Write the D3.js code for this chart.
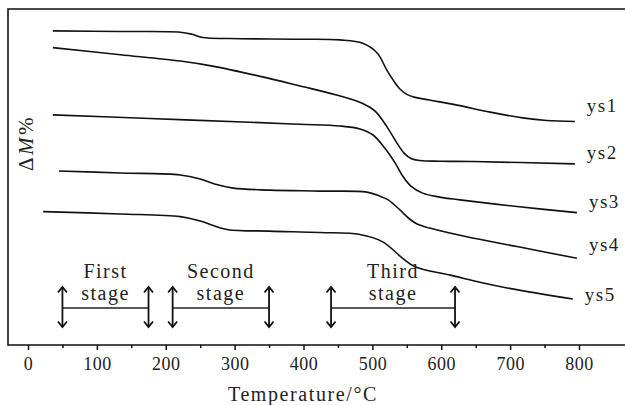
<!DOCTYPE html>
<html>
<head>
<meta charset="utf-8">
<script src="https://cdn.jsdelivr.net/npm/d3@7/dist/d3.min.js"></script>
<style>
  html, body { margin: 0; padding: 0; background: #fff; }
  #chart { width: 625px; height: 405px; }
  text { font-family: "Liberation Serif", "DejaVu Serif", serif; fill: #222; }
</style>
</head>
<body>
<div id="chart"></div>
<script>
// temperature (°C), relative mass offset (ΔM%, arbitrary stacked units)
const ys1 = [[36, 93.5], [134, 93.3], [221, 93.1], [238, 92.5], [254, 91.5], [293, 91.2], [395, 91.0], [453, 90.8], [486, 89.8], [507, 86.9], [521, 81.8], [533, 78.0], [540, 76.2], [550, 74.6], [562, 73.7], [583, 72.9], [623, 71.4], [671, 69.3], [718, 67.6], [753, 66.8], [794, 66.5]];
const ys2 = [[36, 88.5], [134, 86.4], [221, 84.5], [268, 83.0], [347, 79.5], [395, 77.1], [448, 74.4], [486, 71.9], [504, 69.6], [521, 65.0], [536, 60.0], [546, 57.1], [556, 55.5], [569, 54.9], [598, 54.7], [646, 54.6], [794, 53.9]];
const ys3 = [[36, 68.5], [177, 67.4], [322, 66.3], [395, 65.7], [453, 65.2], [482, 64.3], [501, 62.5], [518, 58.6], [533, 54.2], [544, 50.3], [556, 47.3], [573, 45.2], [598, 44.0], [627, 43.2], [710, 41.2], [797, 39.4]];
const ys4 = [[45, 51.8], [134, 51.2], [221, 50.6], [250, 49.4], [271, 47.9], [298, 46.7], [351, 46.1], [424, 45.8], [492, 45.5], [511, 44.3], [523, 43.2], [540, 40.2], [554, 37.5], [565, 36.0], [583, 34.8], [637, 32.2], [710, 29.3], [797, 25.8]];
const ys5 = [[22, 39.7], [134, 39.0], [221, 38.2], [250, 36.9], [289, 34.4], [351, 33.9], [424, 33.5], [482, 32.9], [515, 30.7], [544, 25.8], [562, 23.3], [613, 20.8], [685, 17.4], [791, 13.7]];

const seriesNames = ["ys1", "ys2", "ys3", "ys4", "ys5"];
const xTicks = [0, 50, 100, 150, 200, 250, 300, 350, 400, 450, 500, 550, 600, 650, 700, 750, 800];
const stageNames = [["First", "stage"], ["Second", "stage"], ["Third", "stage"]];
const stageRanges = [[50, 175], [210, 350], [440, 620]];

class TgChart {
  constructor(options) {
    let o = {
      el: "#chart",
      series: [],
      names: [],
      width: 625,
      height: 405,
      plot: { left: 8, top: 9, bottom: 345 },
      labelDy: [-10, -5, -5, -7, 2]
    };
    Object.assign(o, options);
    Object.assign(this, o);
    this._init();
  }

  _init() {
    this.svg = d3.select(this.el).append("svg")
      .attr("width", this.width)
      .attr("height", this.height);
    this.xScale = d3.scaleLinear().domain([0, 800]).range([28, 579]);
    this.yScale = d3.scaleLinear().domain([0, 100]).range([this.plot.bottom, this.plot.top]);
    this._createFrame();
    this._createXaxis();
    this._createLines();
    this._createStages();
  }

  _createFrame() {
    const p = this.plot;
    this.svg.append("path")
      .attr("d", `M${this.width + 10},${p.top} H${p.left} V${p.bottom} H${this.width + 10}`)
      .attr("fill", "none")
      .attr("stroke", "#111")
      .attr("stroke-width", 1.6);

    this.svg.append("text")
      .attr("transform", `translate(33,143) rotate(-90)`)
      .attr("text-anchor", "middle")
      .attr("font-size", 21)
      .attr("letter-spacing", 2.5)
      .call(t => {
        t.append("tspan").text("Δ");
        t.append("tspan").attr("font-style", "italic").text("M");
        t.append("tspan").text("%");
      });
  }

  _createXaxis() {
    const axis = d3.axisBottom(this.xScale)
      .tickValues(xTicks)
      .tickSize(5)
      .tickFormat(d => (d % 100 === 0 ? d : ""));
    const g = this.svg.append("g")
      .attr("transform", `translate(0,${this.plot.bottom})`)
      .call(axis);
    g.select(".domain").remove();
    g.selectAll(".tick line")
      .attr("stroke", "#111")
      .attr("stroke-width", 1.5)
      .attr("y2", d => (d % 100 === 0 ? 5 : 3));
    g.selectAll(".tick text")
      .attr("y", 25)
      .attr("dy", null)
      .attr("font-size", 18)
      .attr("letter-spacing", 0.5)
      .attr("fill", "#222");

    this.svg.append("text")
      .attr("x", 303)
      .attr("y", 401)
      .attr("text-anchor", "middle")
      .attr("font-size", 20)
      .attr("letter-spacing", 1.6)
      .text("Temperature/°C");
  }

  _createLines() {
    const line = d3.line()
      .x(d => this.xScale(d[0]))
      .y(d => this.yScale(d[1]))
      .curve(d3.curveCatmullRom.alpha(0.5));

    this.svg.selectAll(".tg")
      .data(this.series)
      .enter()
      .append("path")
      .attr("class", "tg")
      .attr("d", line)
      .attr("fill", "none")
      .attr("stroke", "#111")
      .attr("stroke-width", 1.6);

    this.svg.selectAll(".tg-label")
      .data(this.series)
      .enter()
      .append("text")
      .attr("class", "tg-label")
      .attr("x", d => this.xScale(d[d.length - 1][0]) + 12)
      .attr("y", (d, i) => this.yScale(d[d.length - 1][1]) + this.labelDy[i])
      .attr("font-size", 19)
      .attr("letter-spacing", 1.5)
      .text((d, i) => this.names[i]);
  }

  // vertical double arrows joined by a bar, one group per stage
  _createStages() {
    const barY = 308, top = 287, bottom = 327;
    const head = (x, y, dir) => `M${x - 4.5},${y + dir * 5.5} L${x},${y} L${x + 4.5},${y + dir * 5.5}`;
    const g = this.svg.selectAll(".stage")
      .data(stageRanges)
      .enter()
      .append("g")
      .attr("class", "stage");

    g.append("line")
      .attr("x1", d => this.xScale(d[0]))
      .attr("x2", d => this.xScale(d[1]))
      .attr("y1", barY)
      .attr("y2", barY)
      .attr("stroke", "#222")
      .attr("stroke-width", 1.4);

    g.each((d, i, nodes) => {
      const sel = d3.select(nodes[i]);
      d.forEach(t => {
        const x = this.xScale(t);
        sel.append("line")
          .attr("x1", x).attr("x2", x)
          .attr("y1", top).attr("y2", bottom)
          .attr("stroke", "#111").attr("stroke-width", 1.8);
        sel.append("path")
          .attr("d", head(x, top, 1) + " " + head(x, bottom, -1))
          .attr("fill", "none")
          .attr("stroke", "#111")
          .attr("stroke-width", 1.8);
      });
      const cx = this.xScale((d[0] + d[1]) / 2);
      sel.append("text")
        .attr("x", cx).attr("y", 278)
        .attr("text-anchor", "middle")
        .attr("font-size", 20)
        .attr("letter-spacing", 1.5)
        .text(stageNames[i][0]);
      sel.append("text")
        .attr("x", cx).attr("y", 300)
        .attr("text-anchor", "middle")
        .attr("font-size", 20)
        .attr("letter-spacing", 1.5)
        .text(stageNames[i][1]);
    });
  }
}

new TgChart({
  series: [ys1, ys2, ys3, ys4, ys5],
  names: seriesNames
});
</script>
</body>
</html>
